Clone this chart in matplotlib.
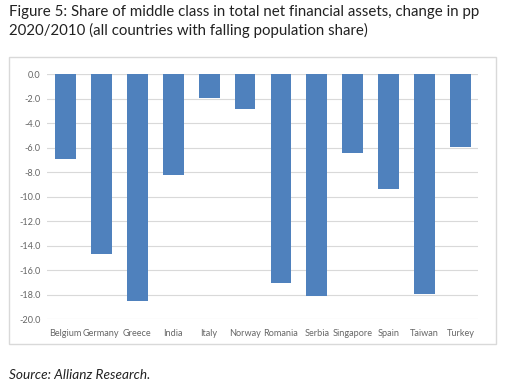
import matplotlib.pyplot as plt
from matplotlib.patches import Rectangle

countries = ["Belgium", "Germany", "Greece", "India", "Italy", "Norway",
             "Romania", "Serbia", "Singapore", "Spain", "Taiwan", "Turkey"]
change_pp = [-6.9, -14.7, -18.5, -8.2, -1.9, -2.8,
             -17.0, -18.1, -6.4, -9.4, -17.9, -5.9]
yticks = [0, -2, -4, -6, -8, -10, -12, -14, -16, -18, -20]

W, H = 506, 386
fig = plt.figure(figsize=(W / 100, H / 100), dpi=100)
plt.rcParams["font.family"] = ["Lato", "DejaVu Sans"]

# chart frame
fig.patches.append(Rectangle((9 / W, 1 - 344 / H), 487 / W, 287 / H,
                             transform=fig.transFigure, fill=False,
                             edgecolor="#D9D9D9", linewidth=1))

ax = fig.add_axes([47.5 / W, 1 - 319.3 / H, 431 / W, 245 / H])
ax.bar(range(len(countries)), change_pp, width=0.58, color="#4F81BD", zorder=3)
ax.set_ylim(-20, 0)
ax.set_xlim(-0.5, len(countries) - 0.5)
ax.set_yticks(yticks)
ax.set_yticklabels([f"{v:.1f}" for v in yticks])
ax.set_xticks(range(len(countries)))
ax.set_xticklabels(countries)
ax.tick_params(axis="both", length=0, labelsize=6.6, labelcolor="#666666")
ax.tick_params(axis="x", pad=7)
ax.tick_params(axis="y", pad=5)
ax.grid(axis="y", color="#D9D9D9", linewidth=0.8, zorder=0)
for s in ax.spines.values():
    s.set_visible(False)
ax.axhline(0, color="#D9D9D9", linewidth=0.8, zorder=1)

fig.text(9 / W, 1 - 5 / H,
         "Figure 5: Share of middle class in total net financial assets, change in pp\n"
         "2020/2010 (all countries with falling population share)",
         ha="left", va="top", fontsize=10.85, color="#222222", linespacing=1.3)
fig.text(9 / W, 1 - 375 / H, "Source: Allianz Research.", ha="left", va="center",
         fontsize=9.8, style="italic", color="#222222")

fig.savefig("out.png", dpi=100)
